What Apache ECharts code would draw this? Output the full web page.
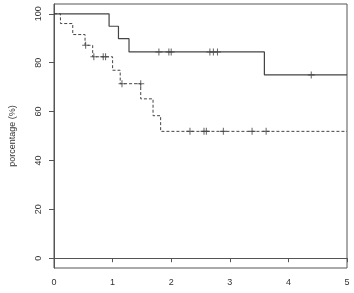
<!DOCTYPE html>
<html>
<head>
    <meta charset="utf-8">
    <title>ECharts</title>
    <script src="https://cdn.jsdelivr.net/npm/echarts@6/dist/echarts.min.js"></script>
</head>
<body style="margin:0;">
    <div id="main" style="width: 354px;height:293px;"></div>
    <script type="text/javascript">
        // solid curve (group 1)
        var solidTimes = [0, 0.94, 1.10, 1.28, 3.59, 5];
        var solidSurv = [100, 94.9, 89.8, 84.4, 75.0, 75.0];
        var solidCensorTimes = [1.79, 1.96, 2.00, 2.66, 2.72, 2.79, 4.39];
        var solidCensorSurv = [84.4, 84.4, 84.4, 84.4, 84.4, 84.4, 75.0];

        // dashed curve (group 2)
        var dashTimes = [0, 0.11, 0.32, 0.53, 0.66, 1.00, 1.13, 1.48, 1.69, 1.82, 5];
        var dashSurv = [100, 96.0, 91.5, 87.1, 82.4, 76.9, 71.4, 65.2, 58.3, 51.9, 51.9];
        var dashCensorTimes = [0.54, 0.68, 0.84, 0.88, 1.16, 1.48, 2.32, 2.56, 2.60, 2.89, 3.38, 3.62];
        var dashCensorSurv = [87.1, 82.4, 82.4, 82.4, 71.4, 71.4, 51.9, 51.9, 51.9, 51.9, 51.9, 51.9];

        var yTicks = [0, 20, 40, 60, 80, 100];
        var yName = 'porcentage (%)';

        function pairs(xs, ys) {
            return xs.map(function(x, i) { return [x, ys[i]]; });
        }

        var plus = 'path://M-0.15,-1 L0.15,-1 L0.15,1 L-0.15,1 Z M-1,-0.15 L1,-0.15 L1,0.15 L-1,0.15 Z';
        var ink = '#444';
        var font = 'Liberation Sans';

        var myChart = echarts.init(document.getElementById('main'));
        var option = {
            animation: false,
            grid: {
                left: 46, right: 7, top: 4, bottom: 25,
                show: true, borderColor: '#555', borderWidth: 1
            },
            xAxis: {
                type: 'value', min: 0, max: 5, interval: 1,
                splitLine: { show: false },
                axisLine: { show: true, lineStyle: { color: '#555' } },
                axisTick: { show: true, length: 4, lineStyle: { color: '#555' } },
                axisLabel: { color: '#333', fontFamily: font, fontSize: 9, margin: 10 }
            },
            yAxis: {
                type: 'value', min: -4, max: 104,
                name: yName, nameLocation: 'middle', nameRotate: 90, nameGap: 37,
                nameTextStyle: { color: '#333', fontFamily: font, fontSize: 9 },
                splitLine: { show: false },
                axisLine: { show: true, lineStyle: { color: '#555' } },
                axisTick: { show: true, length: 5, customValues: yTicks, lineStyle: { color: '#555' } },
                axisLabel: { color: '#333', fontFamily: font, fontSize: 9, rotate: 90, margin: 11, customValues: yTicks }
            },
            series: [{
                type: 'line', step: 'end', symbol: 'none',
                data: pairs(solidTimes, solidSurv),
                lineStyle: { color: ink, width: 1.2 }
            }, {
                type: 'line', step: 'end', symbol: 'none',
                data: pairs(dashTimes, dashSurv),
                lineStyle: { color: ink, width: 1, type: [3, 2] }
            }, {
                type: 'scatter', symbol: plus, symbolSize: 7,
                data: pairs(solidCensorTimes, solidCensorSurv),
                itemStyle: { color: ink }
            }, {
                type: 'scatter', symbol: plus, symbolSize: 7,
                data: pairs(dashCensorTimes, dashCensorSurv),
                itemStyle: { color: ink }
            }]
        };
        myChart.setOption(option);
    </script>
</body>
</html>
